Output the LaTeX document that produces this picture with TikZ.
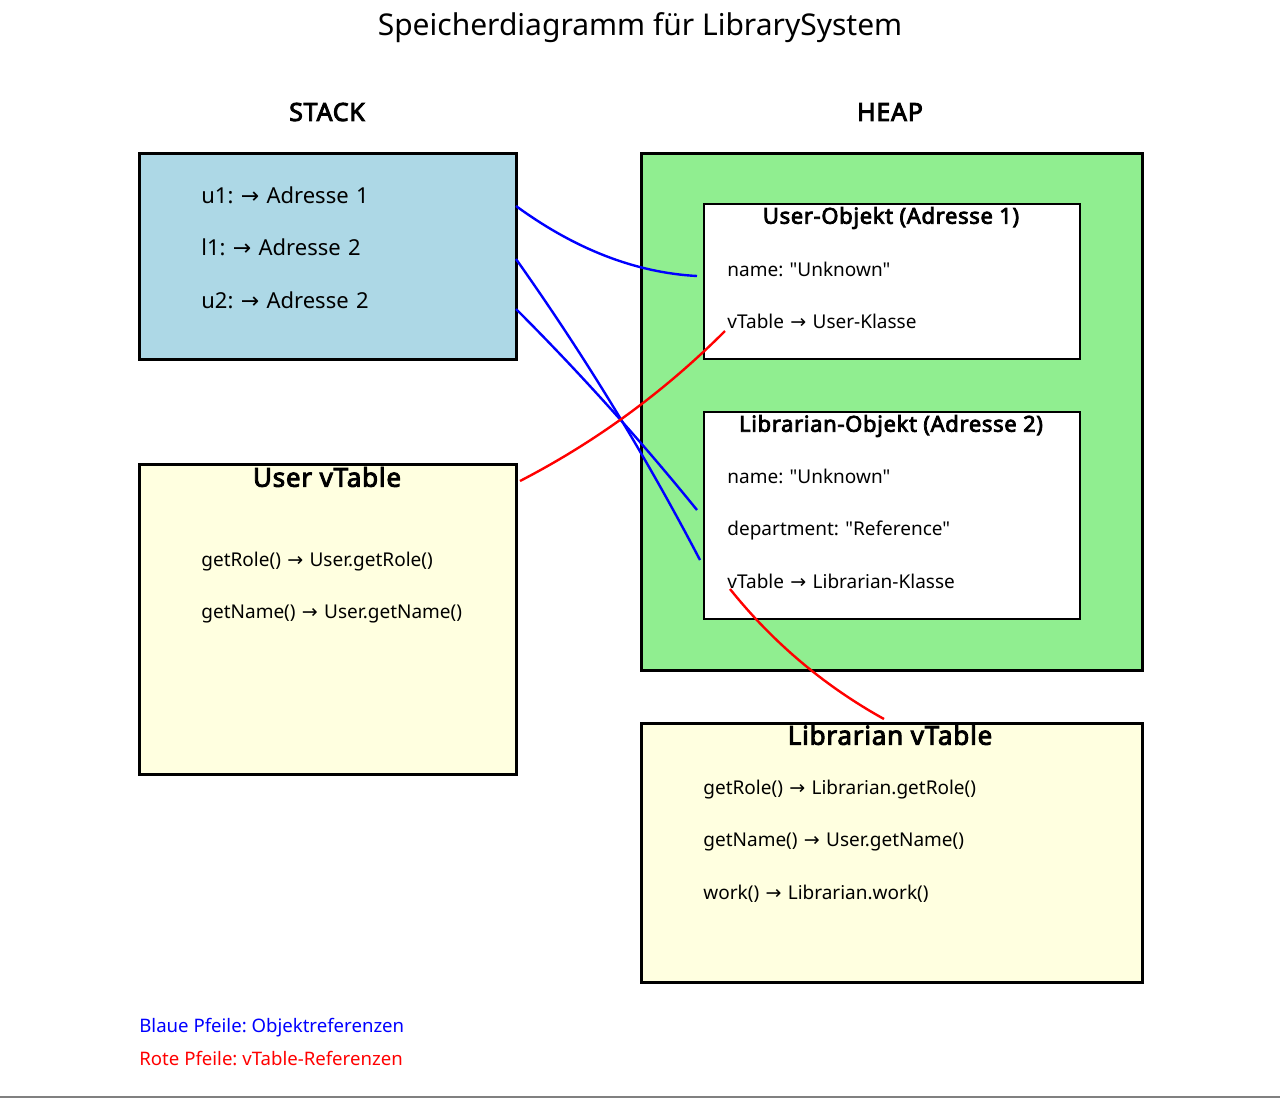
\documentclass[tikz,border=0pt]{standalone}
\usepackage{fontspec}
\setmainfont{Noto Sans}[Ligatures=TeXOff]
\newfontfamily\heavyfont{Noto Sans}[FakeBold=3.5,LetterSpace=3,Ligatures=TeXOff]
\newfontfamily\arrowfont{DejaVu Sans}
\newcommand{\refto}{{\arrowfont →}}
\frenchspacing
\usetikzlibrary{positioning,chains,calc}
\definecolor{stackfill}{HTML}{ADD8E6}
\definecolor{heapfill}{HTML}{90EE90}
\definecolor{vtablefill}{HTML}{FFFFE0}
\tikzset{
	memory diagram/.style={
		x=0.5pt,y=-0.5pt, % one unit = one pixel of the sketch, y going down
		node distance=0pt
	},
	region/.style={
		rectangle,
		draw,
		line width=1.5pt,
		anchor=north west,
		inner sep=0pt
	},
	object box/.style={
		region,
		fill=white,
		line width=1pt
	},
	region label/.style={
		font=\fontsize{12.5}{15}\selectfont\heavyfont
	},
	box title/.style={
		font=\fontsize{11}{13}\selectfont\heavyfont
	},
	vtable title/.style={
		font=\fontsize{13}{15}\selectfont\heavyfont
	},
	entry/.style={
		on chain,
		inner sep=0pt,
		text width=170pt,
		align=left,
		minimum height=26pt,
		text height=1.6ex,text depth=.45ex % adjust baselines
	},
	object ref/.style={
		blue,
		line width=1.2pt
	},
	vtable ref/.style={
		red,
		line width=1.2pt
	},
	legend/.style={
		anchor=west,
		inner sep=0pt,
		font=\fontsize{9.3}{11}\selectfont
	}
}

\begin{document}
\begin{tikzpicture}[memory diagram]
	\useasboundingbox (0,0) rectangle (1280,1099);
	\node[font=\fontsize{15}{18}\selectfont] (title) at (640,28) {Speicherdiagramm für LibrarySystem};
	\node[region label] (stacklabel) at (327,112) {STACK};
	\node[region label] (heaplabel) at (890,112) {HEAP};

	% boxes
	\node[region,fill=stackfill,minimum width=188.5pt,minimum height=103pt] (stack) at (138,152) {};
	\node[region,fill=heapfill,minimum width=250.5pt,minimum height=258.5pt] (heap) at (640,152) {};
	\node[object box,minimum width=188pt,minimum height=77.5pt] (userobj) at (703,203) {};
	\node[object box,minimum width=188pt,minimum height=103.5pt] (libobj) at (703,411) {};
	\node[region,fill=vtablefill,minimum width=188.5pt,minimum height=155pt] (uservt) at (138,463) {};
	\node[region,fill=vtablefill,minimum width=250.5pt,minimum height=129.5pt] (libvt) at (640,722) {};

	\node[box title] (userobjtitle) at (891,218) {User-Objekt (Adresse 1)};
	\node[box title] (libobjtitle) at (891,426) {Librarian-Objekt (Adresse 2)};
	\node[vtable title] (uservttitle) at (327,477) {User vTable};
	\node[vtable title] (libvttitle) at (890,735) {Librarian vTable};

	% rows
	\begin{scope}[start chain=stackrows going below,font=\fontsize{11}{13}\selectfont]
		\node[entry,anchor=west] (u1) at (201,197) {u1: \refto{} Adresse 1};
		\node[entry] (l1) {l1: \refto{} Adresse 2};
		\node[entry] (u2) {u2: \refto{} Adresse 2};
	\end{scope}
	\begin{scope}[start chain=userrows going below,font=\fontsize{9.5}{11}\selectfont]
		\node[entry,anchor=west] (uname) at (727,270) {name: "Unknown"};
		\node[entry] (uvtab) {vTable \refto{} User-Klasse};
	\end{scope}
	\begin{scope}[start chain=librows going below,font=\fontsize{9.5}{11}\selectfont]
		\node[entry,anchor=west] (lname) at (727,477) {name: "Unknown"};
		\node[entry] (ldept) {department: "Reference"};
		\node[entry] (lvtab) {vTable \refto{} Librarian-Klasse};
	\end{scope}
	\begin{scope}[start chain=uservtrows going below,font=\fontsize{9.5}{11}\selectfont]
		\node[entry,anchor=west] (ugetrole) at (201,560) {getRole() \refto{} User.getRole()};
		\node[entry] (ugetname) {getName() \refto{} User.getName()};
	\end{scope}
	\begin{scope}[start chain=libvtrows going below,font=\fontsize{9.5}{11}\selectfont]
		\node[entry,anchor=west] (lgetrole) at (703,788) {getRole() \refto{} Librarian.getRole()};
		\node[entry] (lgetname) {getName() \refto{} User.getName()};
		\node[entry] (lwork) {work() \refto{} Librarian.work()};
	\end{scope}

	% references
	\coordinate (u1out) at (516,206);
	\coordinate (l1out) at (516,259);
	\coordinate (u2out) at (516,309);
	\coordinate (userobjin) at (697,276);
	\coordinate (libobjin) at (700,560);
	\coordinate (libobjin2) at (697,510);
	\coordinate (uservtin) at (520,481);
	\coordinate (uvtabout) at (725,331);
	\coordinate (lvtabout) at (730,589);
	\coordinate (libvtin) at (884,719);
	\draw[object ref] (u1out) .. controls (575.3,249.3) and (635.7,272.7) .. (userobjin);
	\draw[object ref] (l1out) .. controls (584,355) and (645.3,455.3) .. (libobjin);
	\draw[object ref] (u2out) .. controls (580,373) and (640.3,440) .. (libobjin2);
	\draw[vtable ref] (uservtin) .. controls (596,441.7) and (664.3,391.7) .. (uvtabout);
	\draw[vtable ref] (lvtabout) .. controls (772.7,642.3) and (824,685.7) .. (libvtin);

	\node[legend,text=blue] (legendblue) at (139,1028) {Blaue Pfeile: Objektreferenzen};
	\node[legend,text=red] (legendred) at (139,1058) {Rote Pfeile: vTable-Referenzen};
	\draw[gray,line width=1pt] (0,1097) -- (1280,1097);
\end{tikzpicture}
\end{document}
